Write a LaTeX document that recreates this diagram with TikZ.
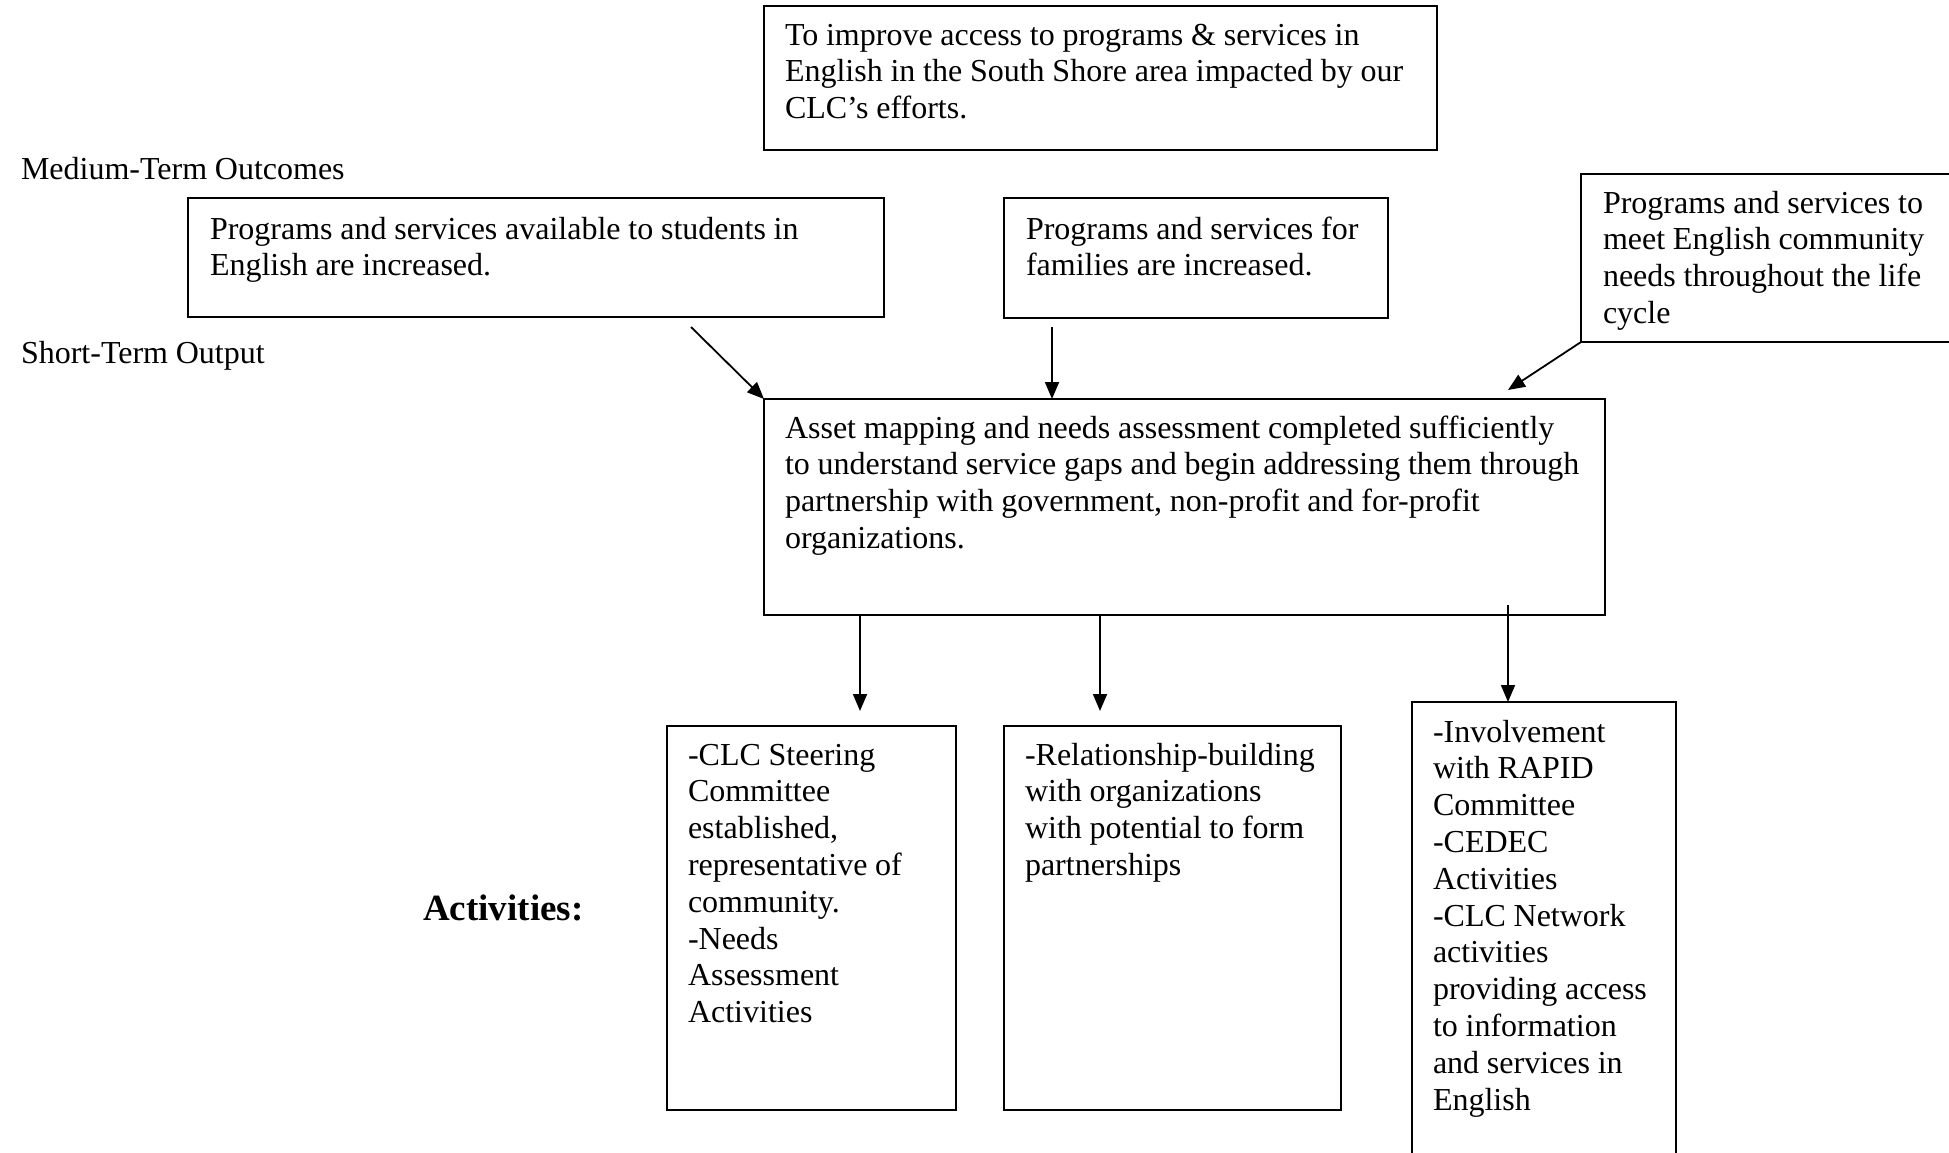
\documentclass[tikz,border=0pt]{standalone}
\usepackage{fontspec}
\setmainfont{Liberation Serif}
\usetikzlibrary{arrows.meta}
\newcommand\bodyfont{\fontsize{32}{36.8}\selectfont\spaceskip=7.75pt\relax}
\newcommand\actfont{\fontsize{37}{42}\selectfont\bfseries}
\tikzset{
  box/.style={draw, line width=1.8pt, inner sep=0pt, outer sep=0pt, anchor=north west},
  txt/.style={anchor=base west, inner sep=0pt, outer sep=0pt, align=left, font=\bodyfont,
    execute at begin node={\spaceskip=7.75pt\relax}},
  arr/.style={-{Triangle[length=17pt,width=14pt]}, line width=1.8pt},
}
\begin{document}
\begin{tikzpicture}[x=1pt,y=-1pt]
\clip (0,0) rectangle (1949,1152);
\fill[white] (0,0) rectangle (1949,1152);
% boxes
\node[box, minimum width=673pt, minimum height=144pt] (goal) at (764,6) {};
\node[box, minimum width=696pt, minimum height=119pt] (ma) at (188,198) {};
\node[box, minimum width=384pt, minimum height=120pt] (mb) at (1004,198) {};
\node[box, minimum width=400pt, minimum height=168pt] (mc) at (1581,174) {};
\node[box, minimum width=841pt, minimum height=216pt] (main) at (764,399) {};
\node[box, minimum width=289pt, minimum height=384pt] (da) at (667,726) {};
\node[box, minimum width=337pt, minimum height=384pt] (db) at (1004,726) {};
\node[box, minimum width=264pt, minimum height=480pt] (dc) at (1412,702) {};
% texts
\node[txt, text width=700pt] (tgoal) at (785,45) {To improve access to programs \& services in\\English in the South Shore area impacted by our\\CLC’s efforts.};
\node[txt, text width=400pt] (tmed) at (21,179) {Medium-Term Outcomes};
\node[txt, text width=700pt] (tma) at (210,239) {Programs and services available to students in\\English are increased.};
\node[txt, text width=400pt] (tmb) at (1026,239) {Programs and services for\\families are increased.};
\node[txt, text width=400pt] (tmc) at (1603,213) {Programs and services to\\meet English community\\needs throughout the life\\cycle};
\node[txt, text width=400pt] (tshort) at (21,363) {Short-Term Output};
\node[txt, text width=900pt] (tmain) at (785,438) {Asset mapping and needs assessment completed sufficiently\\to understand service gaps and begin addressing them through\\partnership with government, non-profit and for-profit\\organizations.};
\node[txt, text width=300pt] (tda) at (688,765) {-CLC Steering\\Committee\\established,\\representative of\\community.\\-Needs\\Assessment\\Activities};
\node[txt, text width=340pt] (tdb) at (1025,765) {-Relationship-building\\with organizations\\with potential to form\\partnerships};
\node[txt, text width=300pt] (tdc) at (1433,742) {-Involvement\\with RAPID\\Committee\\-CEDEC\\Activities\\-CLC Network\\activities\\providing access\\to information\\and services in\\English};
\node[anchor=base west, inner sep=0pt, font=\actfont] (act) at (423,920) {Activities:};
% connector ends
\coordinate (a0) at (691,327);
\coordinate (b0) at (1052,327);
\coordinate (c1) at (1508,390);
\coordinate (d1) at (860,711);
\coordinate (e1) at (1100,711);
\coordinate (f0) at (1508,605);
% connectors
\draw[arr] (a0) -- (main.north west);
\draw[arr] (b0) -- (b0 |- main.north);
\draw[arr] (mc.south west) -- (c1);
\draw[arr] (main.south -| d1) -- (d1);
\draw[arr] (main.south -| e1) -- (e1);
\draw[arr] (f0) -- (f0 |- dc.north);
\end{tikzpicture}
\end{document}
